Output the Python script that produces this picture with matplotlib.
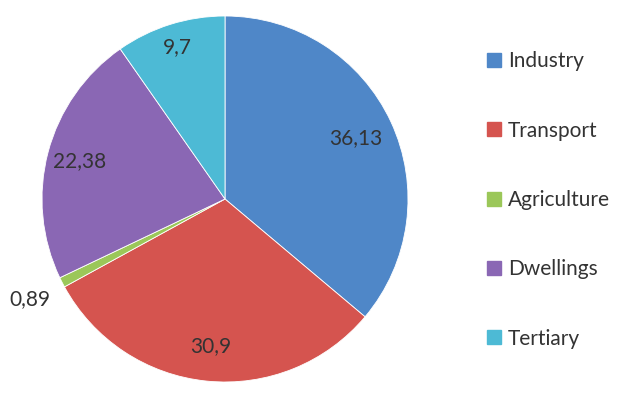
import matplotlib.pyplot as plt
from matplotlib.lines import Line2D
import numpy as np

plt.rcParams['font.family'] = ['Lato', 'DejaVu Sans']

sectors = ['Industry', 'Transport', 'Agriculture', 'Dwellings', 'Tertiary']
shares = [36.13, 30.9, 0.89, 22.38, 9.7]
share_labels = ['36,13', '30,9', '0,89', '22,38', '9,7']
colors = ['#4F87C8', '#D5544F', '#9BC759', '#8A67B4', '#4DBAD5']
label_dist = [0.79, 0.81, 1.2, 0.82, 0.87]

fig = plt.figure(figsize=(6.29, 3.95), dpi=100)
R = 183
cx, cy = 225, 199
ax = fig.add_axes([(cx - R) / 629, (395 - cy - R) / 395, 2 * R / 629, 2 * R / 395])

wedges, _ = ax.pie(shares, colors=colors, startangle=90, counterclock=False,
                   radius=1.0, wedgeprops=dict(edgecolor='white', linewidth=0.6))

# value labels at the wedge mid-angles
for w, lab, d in zip(wedges, share_labels, label_dist):
    ang = np.deg2rad((w.theta1 + w.theta2) / 2)
    ax.text(d * np.cos(ang), d * np.sin(ang), lab, ha='center', va='center',
            fontsize=15, color='#333333')

ax.set_xlim(-1, 1)
ax.set_ylim(-1, 1)
ax.set_aspect('equal')
ax.axis('off')

handles = [Line2D([], [], marker='s', linestyle='none', markersize=9.5,
                  markerfacecolor=c, markeredgecolor=c) for c in colors]
fig.legend(handles, sectors, loc='center left', bbox_to_anchor=(487 / 629, 1 - 200 / 395),
           frameon=False, fontsize=15, labelspacing=2.37, handlelength=0.7,
           handletextpad=0.3, borderpad=0, borderaxespad=0, labelcolor='#333333')

fig.savefig('out.png', dpi=100)
